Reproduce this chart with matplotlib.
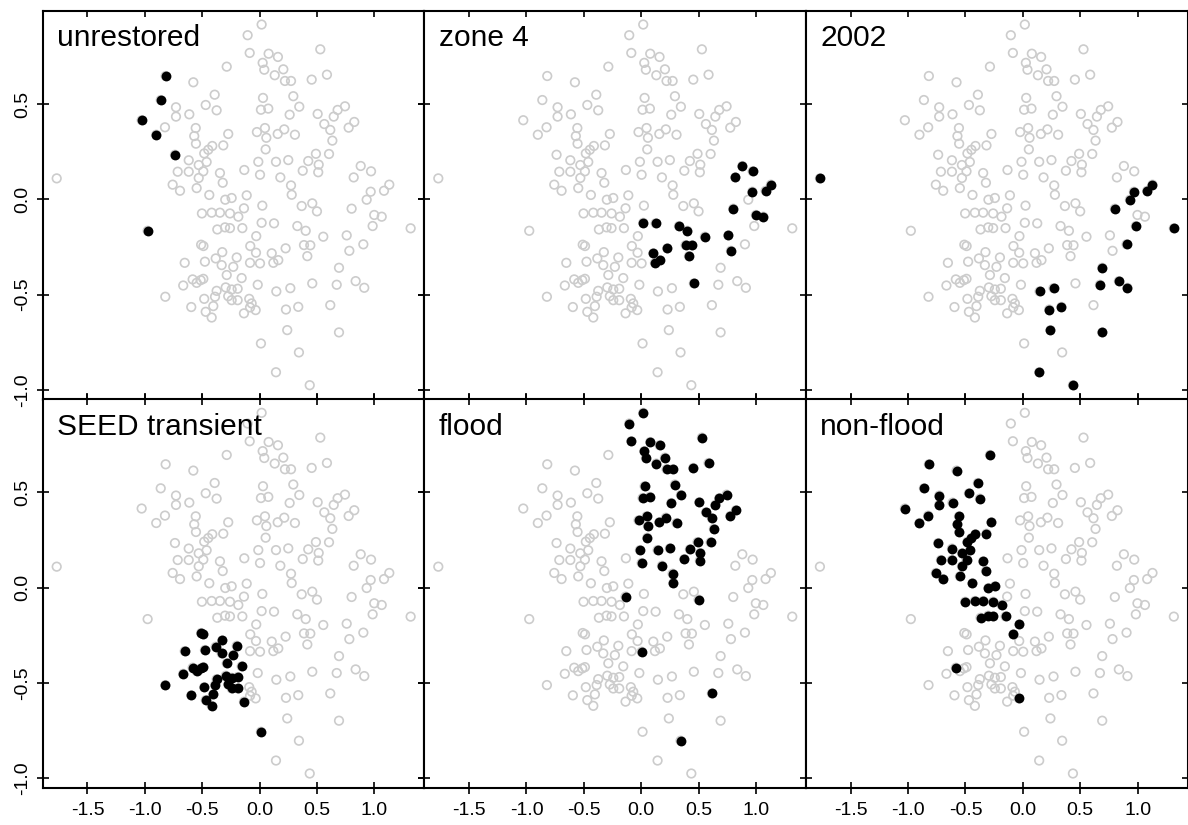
import matplotlib
matplotlib.use("Agg")
import matplotlib.pyplot as plt
import numpy as np

plt.rcParams['font.family'] = ['Liberation Sans', 'DejaVu Sans']

# NMDS site scores, split into blocks of sites that share the same categories
flood_x = [0.017, -0.105, -0.087, 0.078, 0.159, 0.528, 0.026, 0.040, 0.206, 0.131,
           0.220, 0.273, 0.453, 0.586, 0.029, 0.293, 0.011, 0.075, 0.345, 0.261,
           0.505, 0.743, 0.679, 0.645, 0.563, 0.824, 0.775, 0.615, -0.024, 0.046,
           0.058, 0.157, 0.214, 0.307, 0.633, 0.052, -0.012, 0.142, 0.249, 0.490,
           0.604, 0.423, 0.514, 0.003, 0.375, 0.510, 0.180, 0.273, 0.279, -0.137,
           0.499, 0.003, 0.615, 0.342]
flood_y = [0.917, 0.861, 0.768, 0.764, 0.747, 0.787, 0.716, 0.680, 0.682, 0.651,
           0.621, 0.621, 0.628, 0.654, 0.532, 0.541, 0.470, 0.476, 0.486, 0.444,
           0.448, 0.488, 0.469, 0.434, 0.395, 0.406, 0.376, 0.364, 0.353, 0.374,
           0.323, 0.343, 0.367, 0.339, 0.308, 0.262, 0.197, 0.197, 0.206, 0.239,
           0.238, 0.201, 0.182, 0.129, 0.150, 0.142, 0.115, 0.073, 0.024, -0.047,
           -0.063, -0.336, -0.555, -0.803]

# unrestored sites that are also non-flood
unrest_nf_x = [-0.819, -0.862, -1.028, -0.901, -0.738]
unrest_nf_y = [0.647, 0.521, 0.415, 0.339, 0.234]

unrest_x = [-0.976]
unrest_y = [-0.165]

nonflood_x = [-0.287, -0.578, -0.392, -0.470, -0.375, -0.729, -0.729, -0.613, -0.825, -0.557,
              -0.570, -0.274, -0.555, -0.413, -0.448, -0.317, -0.483, -0.618, -0.462, -0.531,
              -0.714, -0.618, -0.491, -0.346, -0.531, -0.322, -0.758, -0.549, -0.694, -0.439,
              -0.300, -0.244, -0.503, -0.418, -0.346, -0.259, -0.369, -0.302, -0.259, -0.151,
              -0.186, -0.030, -0.082, -0.035]
nonflood_y = [0.696, 0.614, 0.549, 0.495, 0.467, 0.483, 0.434, 0.446, 0.378, 0.374,
              0.332, 0.343, 0.292, 0.280, 0.260, 0.283, 0.241, 0.205, 0.196, 0.180,
              0.145, 0.145, 0.147, 0.138, 0.112, 0.087, 0.077, 0.059, 0.045, 0.023,
              -0.002, 0.007, -0.074, -0.070, -0.070, -0.074, -0.158, -0.147, -0.151, -0.151,
              -0.091, -0.193, -0.245, -0.581]

seed_x = [-0.510, -0.490, -0.326, -0.653, -0.477, -0.383, -0.331, -0.200, -0.230, -0.287,
          -0.157, -0.666, -0.549, -0.514, -0.491, -0.296, -0.375, -0.244, -0.192,
          -0.822, -0.483, -0.389, -0.274, -0.244, -0.192, -0.596, -0.404, -0.470, -0.418,
          -0.137, 0.011]
seed_y = [-0.238, -0.245, -0.277, -0.333, -0.327, -0.310, -0.345, -0.305, -0.354, -0.397,
          -0.413, -0.452, -0.438, -0.424, -0.417, -0.462, -0.480, -0.473, -0.469,
          -0.511, -0.522, -0.511, -0.508, -0.529, -0.529, -0.565, -0.560, -0.590, -0.620,
          -0.598, -0.756]

# SEED transient site that is also non-flood
seed_nf_x = [-0.584]
seed_nf_y = [-0.420]

zone4_x = [0.880, 0.970, 0.819, 0.998, 1.063, 0.017,
           0.125, 0.328, 0.401, 0.554, 0.758, 0.781, 0.105, 0.226, 0.386, 0.441,
           0.415, 0.162, 0.119, 0.458]
zone4_y = [0.175, 0.147, 0.115, -0.082, -0.091, -0.123,
           -0.126, -0.140, -0.165, -0.196, -0.189, -0.270, -0.283, -0.257, -0.240, -0.241,
           -0.298, -0.319, -0.333, -0.441]

# zone 4 sites also sampled in 2002
zone4_2002_x = [1.129, 1.083, 0.967, 0.801]
zone4_2002_y = [0.077, 0.045, 0.040, -0.049]

yr2002_x = [-1.768, 1.315, 0.984, 0.903, 0.691, 0.671, 0.836, 0.911, 0.145, 0.267,
            0.336, 0.229, 0.240, 0.691, 0.142, 0.436, 0.932]
yr2002_y = [0.110, -0.152, -0.140, -0.236, -0.359, -0.448, -0.429, -0.464, -0.483, -0.466,
            -0.564, -0.578, -0.686, -0.698, -0.907, -0.975, -0.002]

other_x = [-0.134, -0.113, 0.023, 0.366, 0.458, -0.032, -0.084, -0.017,
           -0.091, -0.070, -0.084]
other_y = [0.154, 0.021, -0.033, -0.035, -0.021, -0.280, -0.333, -0.448,
           -0.522, -0.546, -0.567]

blocks = {
    "flood": (flood_x, flood_y),
    "unrest_nf": (unrest_nf_x, unrest_nf_y),
    "unrest": (unrest_x, unrest_y),
    "nonflood": (nonflood_x, nonflood_y),
    "seed": (seed_x, seed_y),
    "seed_nf": (seed_nf_x, seed_nf_y),
    "zone4": (zone4_x, zone4_y),
    "zone4_2002": (zone4_2002_x, zone4_2002_y),
    "yr2002": (yr2002_x, yr2002_y),
    "other": (other_x, other_y),
}

panel_titles = ["unrestored", "zone 4", "2002", "SEED transient", "flood", "non-flood"]
panel_blocks = [["unrest_nf", "unrest"],
                ["zone4", "zone4_2002"],
                ["yr2002", "zone4_2002"],
                ["seed", "seed_nf"],
                ["flood"],
                ["nonflood", "unrest_nf", "seed_nf"]]

xticks = [-1.5, -1.0, -0.5, 0.0, 0.5, 1.0]
yticks = [-1.0, -0.5, 0.0, 0.5]

all_x = np.concatenate([np.array(v[0]) for v in blocks.values()])
all_y = np.concatenate([np.array(v[1]) for v in blocks.values()])

W, H = 1188, 825
fig = plt.figure(figsize=(W / 100, H / 100), dpi=100)

left, pw = 42.7, 381.6
tops = [11.0, 399.3]
ph = 388.5

for i, title in enumerate(panel_titles):
    r, c = divmod(i, 3)
    ax = fig.add_axes([(left + c * pw) / W, 1 - (tops[r] + ph) / H, pw / W, ph / H])
    ax.scatter(all_x, all_y, s=38, facecolors='none', edgecolors='#cccccc',
               linewidths=1.2, zorder=2)
    bx = np.concatenate([np.array(blocks[b][0]) for b in panel_blocks[i]])
    by = np.concatenate([np.array(blocks[b][1]) for b in panel_blocks[i]])
    ax.scatter(bx, by, s=50, c='black', linewidths=0, zorder=3)

    ax.set_xlim(-1.890, 1.434)
    ax.set_ylim(-1.050, 0.988)
    ax.set_xticks(xticks)
    ax.set_yticks(yticks)
    ax.xaxis.set_ticks_position('both')
    ax.yaxis.set_ticks_position('both')
    ax.tick_params(axis='x', direction='inout' if r == 1 else 'in',
                   length=9 if r == 1 else 4.5, width=1.2, pad=6,
                   labelsize=14, labelbottom=(r == 1))
    ax.tick_params(axis='y', direction='inout' if c < 2 else 'in',
                   length=9 if c < 2 else 4.5, width=1.2, pad=4,
                   labelsize=14, labelleft=(c == 0))
    if r == 1:
        ax.set_xticklabels([f"{t:.1f}" for t in xticks])
    if c == 0:
        ax.set_yticklabels([f"{t:.1f}" for t in yticks], rotation=90, va='center')
    for s in ax.spines.values():
        s.set_linewidth(1.5)
    ax.text(0.038, 0.909, title, transform=ax.transAxes, fontsize=21.5,
            ha='left', va='baseline')

fig.savefig("out.png", dpi=100)
